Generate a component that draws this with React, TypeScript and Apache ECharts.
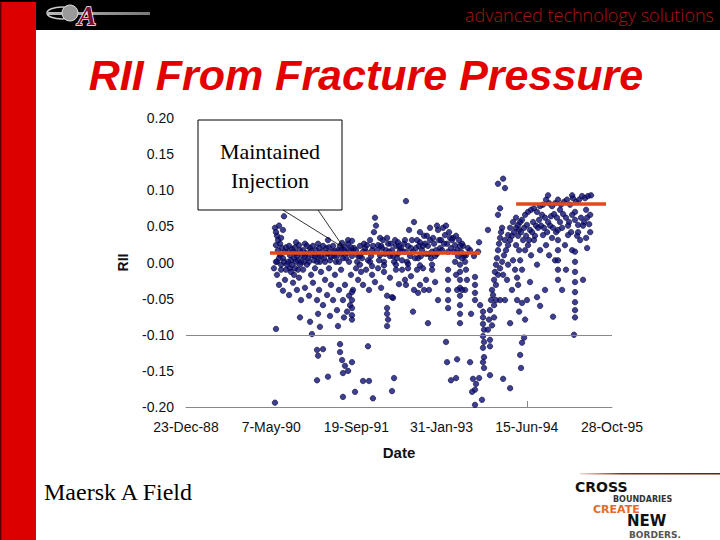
import React, { useEffect, useRef } from "react";
import * as echarts from "echarts";

// Excel date serials (days) on x, RII on y
const xTickLabels = ["23-Dec-88", "7-May-90", "19-Sep-91", "31-Jan-93", "15-Jun-94", "28-Oct-95"];
const xStart = 32500;
const xEnd = 35000;
const xStep = 500;

const injection1990: [number, number][] = [
  [33022,0.048],[33028,0.042],[33034,0.037],[33040,0.031],[33046,0.051],[33052,0.026],[33058,0.034],[33063,0.020],[33069,0.045],[33075,0.064],[33081,0.015],[33028,0.024],[33040,0.017],[33052,0.010],[33069,0.006],[33087,0.021],[33099,0.015],[33110,0.010],[33122,0.019],[33134,0.006],[33146,0.013],[33157,0.003],[33169,0.017],[33181,0.009],[33192,0.001],[33204,0.013],[33216,0.006],[33228,0.020],[33239,0.010],[33251,0.003],[33263,0.017],[33275,0.008],[33286,0.001],[33298,0.015],[33310,0.006],[33322,0.020],[33333,0.012],[33345,0.003],[33357,0.015],[33369,0.009],[33380,0.001],[33392,0.017],[33404,0.023],[33416,0.012],[33427,0.017],[33439,0.006],[33451,0.026],[33463,0.017],[33474,0.009],[33486,0.020],
  [33146,0.028],[33198,0.026],[33275,0.026],[33333,0.031],[33416,0.027],[33451,0.031],[33474,0.030],
  [33105,0.023],[33116,0.003],[33128,0.015],[33140,0.021],[33151,0.009],[33163,0.024],[33175,0.001],[33187,0.017],[33198,0.008],[33210,0.023],[33222,0.001],[33234,0.016],[33245,0.023],[33257,0.009],[33269,0.001],[33281,0.020],[33292,0.009],[33304,0.023],[33316,0.001],[33328,0.013],[33339,0.021],[33351,0.008],[33363,0.023],[33374,0.016],[33386,0.009],[33398,0.001],[33410,0.017],[33421,0.006],[33433,0.021],[33445,0.013],[33457,0.001],[33468,0.021],[33480,0.015],
  [33034,0.001],[33046,0.006],[33058,-0.003],[33075,0.001],[33087,-0.010],[33099,0.001],[33110,-0.008],[33122,-0.003],[33134,-0.017],[33146,0.001],[33157,-0.010],[33169,-0.003],
  [33016,-0.008],[33028,0.001],[33034,-0.017],[33046,-0.031],[33058,-0.010],[33069,-0.039],[33081,-0.024],[33093,-0.003],[33105,-0.045],[33116,-0.013],[33128,-0.028],[33140,-0.008],[33151,-0.038],[33163,-0.021],[33175,-0.052],[33187,-0.010],[33198,-0.035],[33210,-0.003],[33222,-0.046],[33234,-0.017],[33245,-0.028],[33257,-0.008],[33269,-0.052],[33281,-0.038],[33292,-0.013],[33304,-0.059],[33316,-0.024],[33328,-0.045],[33339,-0.008],[33351,-0.031],[33363,-0.052],[33374,-0.017],[33386,-0.066],[33398,-0.038],[33410,-0.010],[33421,-0.052],[33433,-0.031],[33445,-0.068],[33457,-0.046],[33468,-0.017],[33480,-0.038],
  [33169,-0.076],[33228,-0.082],[33275,-0.071],[33345,-0.074],[33392,-0.088],[33427,-0.076],[33463,-0.059],[33474,-0.041],[33474,-0.052],[33474,-0.063],[33474,-0.073],[33474,-0.079],[33239,-0.099],[33286,-0.089],
  [33028,-0.092],[33022,-0.194],[33269,-0.121],[33275,-0.129],[33304,-0.120],[33404,-0.113],[33404,-0.124],[33416,-0.135],[33433,-0.143],[33421,-0.153],[33451,-0.150],[33269,-0.163],[33333,-0.158],[33421,-0.186],
];

const injection1991: [number, number][] = [
  [33498,0.017],[33510,0.009],[33521,0.023],[33533,0.006],[33545,0.026],[33557,0.015],[33568,0.003],[33580,0.031],[33592,0.017],[33603,0.042],[33615,0.051],[33609,0.062],[33627,0.024],[33639,0.010],[33650,0.020],[33662,0.001],[33674,0.017],[33686,0.026],[33697,0.009],[33709,0.017],[33721,0.001],[33732,0.023],[33744,0.012],[33756,0.017],[33768,0.003],[33779,0.026],[33791,0.015],[33803,0.023],[33809,0.045],[33815,0.009],[33826,0.031],[33838,0.056],[33850,0.020],[33862,0.006],[33873,0.028],[33885,0.017],[33897,0.037],[33909,0.012],[33920,0.023],[33932,0.031],[33944,0.015],[33956,0.026],[33967,0.017],[33979,0.045],[33991,0.020],
  [33521,0.009],[33551,0.020],[33580,0.001],[33621,0.017],[33656,0.031],[33691,0.015],[33727,0.031],[33762,0.020],[33797,0.001],[33832,0.015],[33867,0.023],[33903,0.026],[33938,0.006],[33973,0.012],[33639,0.034],[33744,0.028],[33873,0.042],[33932,0.048],
  [33504,0.001],[33539,0.015],[33562,0.024],[33586,0.009],[33597,0.023],[33633,0.003],[33645,0.023],[33668,0.012],[33680,0.034],[33703,0.026],[33715,0.009],[33738,0.006],[33750,0.023],[33773,0.015],[33785,0.031],[33820,0.020],[33844,0.006],[33856,0.031],[33879,0.009],[33891,0.023],[33914,0.037],[33926,0.012],[33950,0.034],[33962,0.009],[33985,0.031],
  [33521,-0.003],[33592,-0.005],[33662,-0.004],[33732,-0.003],[33803,-0.002],[33873,-0.004],[33944,-0.003],
  [33498,-0.008],[33510,-0.024],[33527,-0.013],[33539,-0.031],[33557,-0.010],[33574,-0.038],[33592,-0.017],[33609,-0.027],[33627,-0.008],[33645,-0.035],[33662,-0.013],[33680,-0.046],[33697,-0.021],[33715,-0.049],[33732,-0.010],[33750,-0.030],[33768,-0.010],[33785,-0.024],[33803,-0.008],[33820,-0.019],[33838,-0.038],[33856,-0.010],[33873,-0.031],[33891,-0.008],[33909,-0.024],[33926,-0.038],[33944,-0.010],[33962,-0.027],[33979,-0.052],
  [33680,-0.063],[33680,-0.071],[33686,-0.079],[33680,-0.088],[33709,-0.048],[33791,-0.031],[33832,-0.068],[33862,-0.042],[33897,-0.038],[33920,-0.084],[33568,-0.116],[33474,-0.138],[33539,-0.164],[33574,-0.164],[33721,-0.160],[33492,-0.179],[33709,-0.178],[33597,-0.188],
  [33791,0.085],
];

const injection1993: [number, number][] = [
  [33997,0.031],[34008,0.048],[34020,0.038],[34032,0.026],[34044,0.042],[34055,0.020],[34067,0.034],[34079,0.024],[34091,0.017],[34102,0.031],[34114,0.015],[34126,0.023],[33973,0.051],[34026,0.051],[34050,0.034],[34073,0.015],[34096,0.009],[34120,0.026],[34143,0.010],[34167,0.017],[34190,0.009],[34214,0.015],[34220,0.028],
  [34003,0.017],[34014,0.026],[34038,0.015],[34061,0.031],[34085,0.037],[34108,0.023],[34132,0.009],[34155,0.020],
  [34038,-0.010],[34038,-0.024],[34038,-0.038],[34038,-0.052],[34038,-0.063],
  [34108,-0.003],[34108,-0.013],[34108,-0.024],[34108,-0.035],[34108,-0.046],[34108,-0.059],[34108,-0.071],[34108,-0.084],
  [34079,0.001],[34085,-0.017],[34091,-0.038],
  [34138,0.001],[34143,-0.010],[34149,-0.024],[34138,-0.038],
  [34196,-0.020],[34196,-0.031],[34196,-0.042],[34196,-0.052],
  [34120,0.006],[34120,-0.038],
  [34243,-0.068],[34243,-0.076],[34243,-0.085],[34249,-0.093],[34243,-0.102],[34249,-0.110],[34243,-0.118],[34249,-0.131],[34226,-0.059],[34243,-0.138],[34249,-0.146],
  [34173,-0.071],[34167,-0.138],[34026,-0.110],[34032,-0.138],[34091,-0.134],[34055,-0.163],[34085,-0.160],[34184,-0.161],[34202,-0.168],[34220,-0.160],[34196,-0.176],[34179,-0.179],[34196,-0.197],[34237,-0.190],[34284,-0.156],[34361,-0.161],[34402,-0.174],[34472,-0.111],[34461,-0.128],[34466,-0.146],
];

const injection1994: [number, number][] = [
  [34272,-0.093],[34278,-0.079],[34284,-0.066],[34290,-0.052],[34296,-0.038],[34302,-0.045],[34308,-0.024],[34313,-0.013],[34319,-0.003],[34325,0.006],[34331,0.017],[34337,0.026],[34343,0.034],[34349,0.042],[34355,0.048],[34331,0.066],[34343,0.075],[34361,0.116],[34331,0.109],[34372,0.103],[34272,0.045],
  [34284,-0.107],[34296,-0.087],[34308,-0.059],[34319,-0.031],[34331,-0.017],[34343,-0.008],[34355,0.001],[34366,0.010],[34378,0.017],[34390,0.024],[34402,0.031],[34413,0.037],[34425,0.042],[34437,0.048],[34449,0.052],[34461,0.056],[34372,-0.052],[34402,-0.084],[34343,-0.052],[34384,-0.024],[34413,-0.038],[34431,-0.010],[34443,-0.052],[34449,-0.031],[34419,0.003],[34390,-0.003],[34361,-0.017],[34319,-0.052],[34308,-0.076],[34284,-0.116],
  [34372,0.031],[34390,0.038],[34402,0.048],[34419,0.056],[34437,0.062],[34455,0.045],[34472,0.059],[34490,0.066],[34507,0.070],[34525,0.073],[34542,0.075],[34560,0.070],[34578,0.078],[34595,0.080],[34613,0.087],[34631,0.082],[34648,0.078],[34666,0.082],[34683,0.087],[34701,0.080],[34719,0.084],[34736,0.087],[34754,0.080],[34771,0.089],[34789,0.084],[34807,0.087],[34824,0.092],[34842,0.089],[34859,0.092],[34877,0.093],[34625,0.093],[34766,0.093],[34695,0.073],[34783,0.070],[34848,0.073],
  [34449,0.037],[34466,0.042],[34484,0.048],[34501,0.052],[34519,0.045],[34537,0.056],[34554,0.051],[34572,0.059],[34589,0.066],[34607,0.062],[34625,0.056],[34642,0.064],[34660,0.067],[34677,0.062],[34695,0.056],[34713,0.067],[34730,0.062],[34748,0.056],[34766,0.066],[34783,0.059],[34801,0.052],[34818,0.062],[34836,0.056],[34854,0.062],[34872,0.066],
  [34437,0.024],[34455,0.017],[34478,0.031],[34496,0.037],[34513,0.031],[34531,0.042],[34548,0.037],[34566,0.048],[34584,0.051],[34601,0.048],[34619,0.042],[34637,0.051],[34654,0.048],[34672,0.042],[34707,0.048],[34742,0.051],[34760,0.042],[34795,0.037],[34830,0.051],[34848,0.034],[34866,0.053],
  [34443,-0.021],[34472,-0.010],[34472,-0.056],[34461,0.003],[34490,0.017],[34507,0.024],[34525,0.010],[34542,0.031],[34560,-0.003],[34560,-0.048],[34578,0.017],[34595,0.038],[34613,0.024],[34631,0.010],[34648,0.034],[34654,-0.075],[34666,0.003],[34683,0.045],[34683,0.031],[34683,0.017],[34683,0.003],[34683,-0.010],[34683,-0.024],[34707,-0.038],[34724,0.024],[34742,0.038],[34766,0.017],[34783,0.015],[34783,0.001],[34783,-0.013],[34783,-0.027],[34783,-0.041],[34783,-0.055],[34783,-0.066],[34777,-0.100],[34813,0.031],[34830,-0.024],[34854,0.020],[34872,0.042],[34801,0.042],[34730,-0.010],[34607,-0.038],[34519,-0.027],[34501,-0.052],[34578,-0.060],[34490,-0.079],[34455,-0.068],[34484,-0.104],[34783,-0.076],
];

const maintainedLevelEarly: [number, number][] = [[32993, 0.013], [34226, 0.013]];
const maintainedLevelLate: [number, number][] = [[34437, 0.081], [34965, 0.081]];
const referenceLevel = -0.1;

const SANS = "'Liberation Sans', Arial, sans-serif";
const SERIF = "'Liberation Serif', 'Times New Roman', serif";

export default function App() {
  const ref = useRef<HTMLDivElement>(null);
  useEffect(() => {
    if (!ref.current) return;
    const chart = echarts.init(ref.current, undefined, { renderer: "svg" });
    const pointStyle = { color: "#0e0e78", borderColor: "#04042a", borderWidth: 0.7 };
    const scatter = (data: [number, number][]) => ({
      type: "scatter",
      data,
      symbolSize: 5.5,
      itemStyle: pointStyle,
      z: 3,
    });
    const level = (data: [number, number][]) => ({
      type: "line",
      data,
      symbol: "none",
      lineStyle: { color: "#e2491c", width: 3.5 },
      z: 5,
    });
    chart.setOption({
      animation: false,
      backgroundColor: "#ffffff",
      title: {
        text: "RII From Fracture Pressure",
        left: 361,
        textAlign: "center",
        top: 48,
        textStyle: {
          fontFamily: SANS,
          fontSize: 43,
          fontWeight: "bold",
          fontStyle: "italic",
          color: "#e20000",
        },
      },
      grid: { left: 186, right: 108, top: 118, bottom: 133 },
      xAxis: {
        type: "value",
        min: xStart,
        max: xEnd,
        interval: xStep,
        name: "Date",
        nameLocation: "middle",
        nameGap: 38,
        nameTextStyle: { fontFamily: SANS, fontSize: 15, fontWeight: "bold", color: "#111" },
        axisLine: { show: true, onZero: false, lineStyle: { color: "#888", width: 1 } },
        axisTick: { show: true, inside: true, length: 6, customValues: [34500], lineStyle: { color: "#888" } },
        splitLine: { show: false },
        axisLabel: {
          margin: 13,
          fontFamily: SANS,
          fontSize: 14,
          color: "#111",
          formatter: (v: number) => xTickLabels[Math.round((v - xStart) / xStep)] ?? "",
        },
      },
      yAxis: {
        type: "value",
        min: -0.2,
        max: 0.2,
        interval: 0.05,
        name: "RII",
        nameLocation: "middle",
        nameGap: 56,
        nameTextStyle: { fontFamily: SANS, fontSize: 14, fontWeight: "bold", color: "#111" },
        axisLine: { show: false },
        axisTick: { show: false },
        splitLine: { show: false },
        axisLabel: {
          margin: 12,
          fontFamily: SANS,
          fontSize: 14,
          color: "#111",
          formatter: (v: number) => v.toFixed(2),
        },
      },
      series: [
        {
          type: "line",
          data: [],
          z: 1,
          markLine: {
            silent: true,
            symbol: ["none", "none"],
            label: { show: false },
            lineStyle: { color: "#888", width: 1, type: "solid" },
            data: [{ yAxis: referenceLevel }],
          },
        },
        scatter(injection1990),
        scatter(injection1991),
        scatter(injection1993),
        scatter(injection1994),
        level(maintainedLevelEarly),
        level(maintainedLevelLate),
      ],
      graphic: [
        { type: "rect", shape: { x: 0, y: 0, width: 720, height: 30 }, style: { fill: "#000" }, z: 10 },
        { type: "rect", shape: { x: 0, y: 2, width: 36, height: 538 }, style: { fill: "#dc0000" }, z: 11 },
        { type: "rect", shape: { x: 0, y: 2, width: 1.5, height: 538 }, style: { fill: "#600000" }, z: 12 },
        {
          type: "rect",
          shape: { x: 48, y: 12, width: 102, height: 3 },
          style: {
            fill: new echarts.graphic.LinearGradient(0, 0, 1, 0, [
              { offset: 0, color: "#bbbbbb" },
              { offset: 1, color: "#777777" },
            ]),
          },
          z: 12,
        },
        { type: "ellipse", shape: { cx: 62, cy: 13, rx: 15, ry: 6 }, style: { fill: "none", stroke: "#cccccc", lineWidth: 1.5 }, z: 12 },
        { type: "circle", shape: { cx: 70, cy: 13, r: 8 }, style: { fill: "#9a9a9a", stroke: "#dddddd", lineWidth: 1 }, z: 12 },
        {
          type: "text",
          x: 87,
          y: 15,
          style: {
            text: "A",
            align: "center",
            verticalAlign: "middle",
            font: "italic bold 28px 'Liberation Serif', serif",
            fill: "#7a1030",
            stroke: "#ffffff",
            lineWidth: 1.5,
          },
          z: 13,
        },
        {
          type: "text",
          x: 714,
          y: 15,
          style: {
            text: "advanced technology solutions",
            align: "right",
            verticalAlign: "middle",
            font: "300 18px 'Open Sans', 'DejaVu Sans', sans-serif",
            fill: "#a01818",
          },
          z: 12,
        },
        // callout
        { type: "rect", shape: { x: 198, y: 120, width: 144, height: 90 }, style: { fill: "#fff", stroke: "#000", lineWidth: 1 }, z: 20 },
        { type: "polyline", shape: { points: [[283, 210], [344, 248], [318, 210]] }, style: { fill: "none", stroke: "#000", lineWidth: 0.8 }, z: 20 },
        {
          type: "text",
          x: 270,
          y: 166,
          style: {
            text: "Maintained\nInjection",
            align: "center",
            verticalAlign: "middle",
            font: "22px " + SERIF,
            lineHeight: 29,
            fill: "#000",
          },
          z: 21,
        },
        {
          type: "text",
          x: 44,
          y: 492,
          style: { text: "Maersk A Field", align: "left", verticalAlign: "middle", font: "24px " + SERIF, fill: "#000" },
          z: 12,
        },
        // bottom-right logo
        {
          type: "rect",
          shape: { x: 580, y: 473, width: 140, height: 1.5 },
          style: {
            fill: new echarts.graphic.LinearGradient(0, 0, 1, 0, [
              { offset: 0, color: "#f0d8d0" },
              { offset: 0.3, color: "#8a2a1a" },
              { offset: 1, color: "#6a1a10" },
            ]),
          },
          z: 12,
        },
        { type: "text", x: 575, y: 487, style: { text: "CROSS", verticalAlign: "middle", font: "900 14px 'DejaVu Sans', sans-serif", fill: "#111" }, z: 12 },
        { type: "text", x: 613, y: 499, style: { text: "BOUNDARIES", verticalAlign: "middle", font: "bold 8px 'DejaVu Sans', sans-serif", fill: "#333" }, z: 12 },
        { type: "text", x: 593, y: 509, style: { text: "CREATE", verticalAlign: "middle", font: "900 11px 'DejaVu Sans', sans-serif", fill: "#e56a2a" }, z: 12 },
        { type: "text", x: 627, y: 521, style: { text: "NEW", verticalAlign: "middle", font: "900 15px 'DejaVu Sans', sans-serif", fill: "#111" }, z: 12 },
        { type: "text", x: 629, y: 534.5, style: { text: "BORDERS.", verticalAlign: "middle", font: "bold 9px 'DejaVu Sans', sans-serif", fill: "#555" }, z: 12 },
      ],
    });
    return () => chart.dispose();
  }, []);
  return (
    <div
      ref={ref}
      style={{ position: "fixed", left: 0, top: 0, width: 720, height: 540, background: "#fff" }}
    />
  );
}
